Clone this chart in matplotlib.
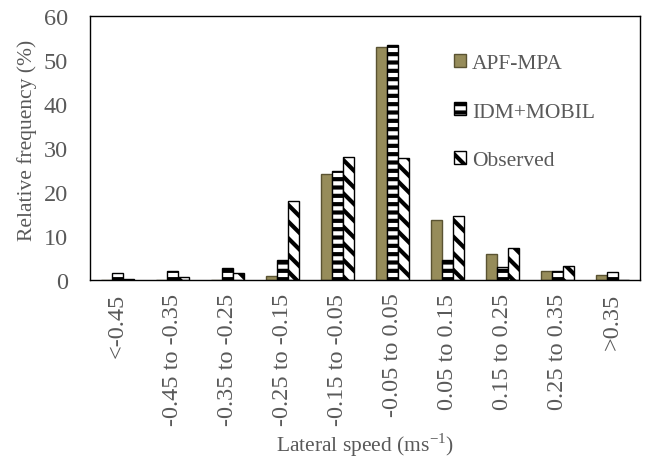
import matplotlib
matplotlib.use("Agg")
import matplotlib.pyplot as plt
import numpy as np

categories = ["<-0.45", "-0.45 to -0.35", "-0.35 to -0.25", "-0.25 to -0.15",
              "-0.15 to -0.05", "-0.05 to 0.05", "0.05 to 0.15", "0.15 to 0.25",
              "0.25 to 0.35", ">0.35"]
apf_mpa = [0.1, 0.1, 0.1, 1.0, 24.1, 52.9, 13.6, 5.9, 2.1, 1.1]
idm_mobil = [1.7, 2.0, 2.8, 4.5, 24.8, 53.5, 4.6, 3.0, 2.0, 1.9]
observed = [0.3, 0.6, 1.7, 17.9, 27.9, 27.7, 14.6, 7.2, 3.1, 0.1]

plt.rcParams["font.family"] = ["Liberation Serif", "DejaVu Serif"]
plt.rcParams["hatch.linewidth"] = 3.0
grey = "#595959"

fig = plt.figure(figsize=(6.51, 4.64), dpi=100)
ax = fig.add_axes([90 / 651, 1 - 281 / 464, 550 / 651, 264 / 464])

x = np.arange(len(categories))
w = 0.2
ax.bar(x - w, apf_mpa, w * 0.92, color="#968c5a", edgecolor="#5a5332",
       linewidth=1.0, label="APF-MPA")
ax.bar(x, idm_mobil, w * 0.92, color="white", edgecolor="black",
       linewidth=1.0, hatch="--", label="IDM+MOBIL")
ax.bar(x + w, observed, w * 0.92, color="white", edgecolor="black",
       linewidth=1.0, hatch="\\\\", label="Observed")

ax.set_xlim(-0.5, len(categories) - 0.5)
ax.set_ylim(0, 60)
ax.set_yticks(range(0, 61, 10))
ax.set_xticks(x)
ax.set_xticklabels(categories, rotation=90, va="top", ha="center")
ax.tick_params(axis="both", length=0, labelsize=17.5, colors=grey)
ax.tick_params(axis="y", pad=16)
ax.tick_params(axis="x", pad=9)
for s in ax.spines.values():
    s.set_color("black")
    s.set_linewidth(1.0)

ax.set_ylabel("Relative frequency (%)", fontsize=15.5, color=grey)
ax.yaxis.set_label_coords(-0.097, 0.534)
ax.set_xlabel("Lateral speed (ms$^{\\mathregular{-1}}$)", fontsize=15.5,
              color=grey, labelpad=4)

leg = ax.legend(loc="upper left", bbox_to_anchor=(0.647, 0.89), frameon=False,
                fontsize=15.5, handlelength=0.55, handleheight=0.55,
                handletextpad=0.25, labelspacing=1.38, borderaxespad=0)
for t in leg.get_texts():
    t.set_color(grey)

fig.savefig("out.png", dpi=100)
